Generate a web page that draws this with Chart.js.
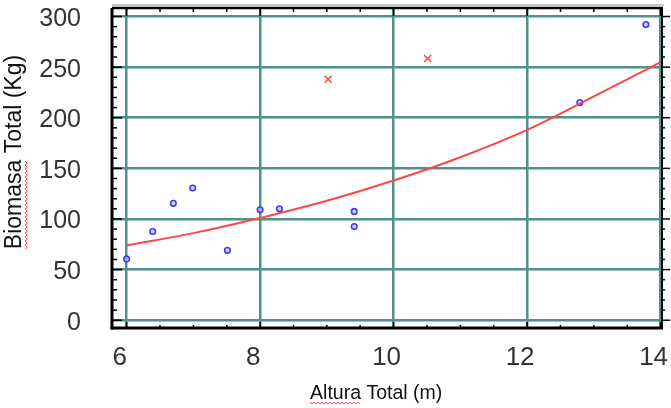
<!DOCTYPE html>
<html>
<head>
<meta charset="utf-8">
<script src="https://cdn.jsdelivr.net/npm/chart.js@4.4.0/dist/chart.umd.min.js"></script>
<style>
    html, body { margin: 0; padding: 0; background: #fff; }
    #grafica { display: block; }
</style>
</head>
<body>
<canvas id="grafica" width="671" height="408"></canvas>
<script>
/* ===== datos ===== */

// observaciones (circulos azules)
let alturaObs  = [6.0, 6.39, 6.70, 6.99, 7.51, 8.0, 8.29, 9.41, 9.41, 12.79, 13.78];
let biomasaObs = [60.5, 87.6, 115.5, 130.6, 69, 109, 110, 107.5, 92.5, 215, 292];

// valores atipicos (cruces rojas)
let alturaAtip  = [9.02, 10.51];
let biomasaAtip = [238, 258.5];

// curva ajustada (linea roja)
let alturaCurva  = [6, 7, 8, 9, 10, 11, 12, 13, 14];
let biomasaCurva = [74, 86, 101, 118, 138, 161, 188, 221, 255];

// etiquetas de los ejes
let ticksX = [6, 8, 10, 12, 14];
let ticksY = [0, 50, 100, 150, 200, 250, 300];

/* ===== estilos ===== */
const fuente = "'Liberation Sans', Arial, sans-serif";
const colorRejilla = '#4f918c';
const tamTituloX = 19.5, padTituloX = 3;
const tamTituloY = 23, padTituloY = 1;
// los espacios desplazan el titulo como en el original
const textoX = 'Altura Total (m)    ';
const textoY = '     Biomasa Total (Kg)';

function linea(ctx, x1, y1, x2, y2) {
    ctx.beginPath();
    ctx.moveTo(x1, y1);
    ctx.lineTo(x2, y2);
    ctx.stroke();
}

// subrayado ondulado rojo (corrector ortografico)
function ondulado(ctx, x0, y0, largo, vertical) {
    ctx.beginPath();
    for (let i = 0, k = 0; i <= largo; i += 2, k++) {
        const d = k % 2 === 0 ? 0 : 2;
        if (vertical) ctx.lineTo(x0 + d, y0 - i);
        else ctx.lineTo(x0 + i, y0 + d);
    }
    ctx.stroke();
}

// marco negro con marcas menores + subrayados
const marco = {
    id: 'marco',
    afterDraw(chart) {
        const {ctx, chartArea: a, scales: {x, y}} = chart;
        ctx.save();

        // sombra gris sobre el borde superior
        ctx.strokeStyle = 'rgba(0,0,0,0.22)';
        ctx.lineWidth = 2;
        linea(ctx, a.left, a.top - 3, a.right + 2, a.top - 3);

        ctx.strokeStyle = '#000';
        ctx.lineWidth = 1.5;
        for (let v = 0; v <= 300; v += 10) {
            const py = y.getPixelForValue(v);
            const mayor = v % 50 === 0;
            linea(ctx, a.left, py, a.left + (mayor ? 10 : 5), py);
            linea(ctx, a.right, py, a.right + (mayor ? 8 : 3), py);
        }
        for (let v = 6; v <= 14; v += 0.5) {
            const px = x.getPixelForValue(v);
            const mayor = v % 2 === 0;
            linea(ctx, px, a.bottom, px, a.bottom - (mayor ? 6 : 3));
            linea(ctx, px, a.top, px, a.top + (mayor ? 8 : 4));
        }

        ctx.lineWidth = 3;
        linea(ctx, a.left, a.top, a.left, a.bottom + 1.5);
        linea(ctx, a.left - 1.5, a.bottom, a.right + 1, a.bottom);
        ctx.lineWidth = 2.5;
        linea(ctx, a.left, a.top, a.right + 1, a.top);
        ctx.lineWidth = 2;
        linea(ctx, a.right, a.top, a.right, a.bottom);

        // subrayado de "Altura"
        ctx.strokeStyle = 'rgb(255,60,60)';
        ctx.lineWidth = 1;
        ctx.font = tamTituloX + 'px ' + fuente;
        const anchoX = ctx.measureText(textoX).width;
        const cx = (x.left + x.right) / 2;
        const cyX = x.bottom - tamTituloX * 0.6 - padTituloX;
        ondulado(ctx, cx - anchoX / 2, cyX + tamTituloX * 0.45, ctx.measureText('Altura').width, false);

        // subrayado de "Biomasa"
        ctx.font = tamTituloY + 'px ' + fuente;
        const anchoY = ctx.measureText(textoY).width;
        const espacios = ctx.measureText(textoY.slice(0, textoY.indexOf('B'))).width;
        const cxY = y.left + tamTituloY * 0.6 + padTituloY;
        const cy = (y.top + y.bottom) / 2;
        ondulado(ctx, cxY + tamTituloY * 0.45, cy + anchoY / 2 - espacios, ctx.measureText('Biomasa').width, true);

        ctx.restore();
    }
};

let ctxGrafica = document.getElementById('grafica');

let miGrafica = new Chart(ctxGrafica, {
    type: 'scatter',
    data: {
        datasets: [
            {
                label: 'Curva ajustada',
                type: 'line',
                data: alturaCurva.map((v, i) => ({x: v, y: biomasaCurva[i]})),
                borderColor: 'rgb(255,70,70)',
                borderWidth: 2,
                pointRadius: 0,
                tension: 0.4,
                fill: false
            },
            {
                label: 'Observados',
                data: alturaObs.map((v, i) => ({x: v, y: biomasaObs[i]})),
                pointStyle: 'circle',
                pointRadius: 2.8,
                borderWidth: 1.6,
                borderColor: 'rgb(60,60,255)',
                backgroundColor: 'rgba(190,190,255,0.7)'
            },
            {
                label: 'Atipicos',
                data: alturaAtip.map((v, i) => ({x: v, y: biomasaAtip[i]})),
                pointStyle: 'crossRot',
                pointRadius: 5,
                borderWidth: 1.5,
                borderColor: 'rgb(255,70,70)'
            }
        ]
    },
    options: {
        responsive: false,
        animation: false,
        devicePixelRatio: 1,
        layout: { padding: { top: 8, right: 9, left: 0, bottom: 0 } },
        plugins: {
            legend: { display: false },
            tooltip: { enabled: false }
        },
        scales: {
            x: {
                type: 'linear',
                min: 5.781,
                max: 14.021,
                afterBuildTicks: s => { s.ticks = ticksX.map(v => ({value: v})); },
                afterFit: s => { s.height = 80; s.paddingLeft = 0; s.paddingRight = 0; },
                grid: { color: colorRejilla, lineWidth: 2.5, drawTicks: false },
                border: { display: false },
                ticks: {
                    font: { family: fuente, size: 26 },
                    color: '#333',
                    padding: 14,
                    labelOffset: -7,
                    maxRotation: 0,
                    autoSkip: false
                },
                title: {
                    display: true,
                    text: textoX,
                    font: { family: fuente, size: tamTituloX },
                    color: '#111',
                    padding: { top: 0, bottom: padTituloX }
                }
            },
            y: {
                type: 'linear',
                min: -7.7,
                max: 308.4,
                afterBuildTicks: s => { s.ticks = ticksY.map(v => ({value: v})); },
                afterFit: s => { s.width = 112; s.paddingTop = 0; s.paddingBottom = 0; },
                grid: { color: colorRejilla, lineWidth: 2.5, drawTicks: false },
                border: { display: false },
                ticks: {
                    font: { family: fuente, size: 25 },
                    color: '#333',
                    padding: 31,
                    labelOffset: 2.5,
                    autoSkip: false
                },
                title: {
                    display: true,
                    text: textoY,
                    font: { family: fuente, size: tamTituloY },
                    color: '#111',
                    padding: { top: padTituloY, bottom: 0 }
                }
            }
        }
    },
    plugins: [marco]
});
</script>
</body>
</html>
